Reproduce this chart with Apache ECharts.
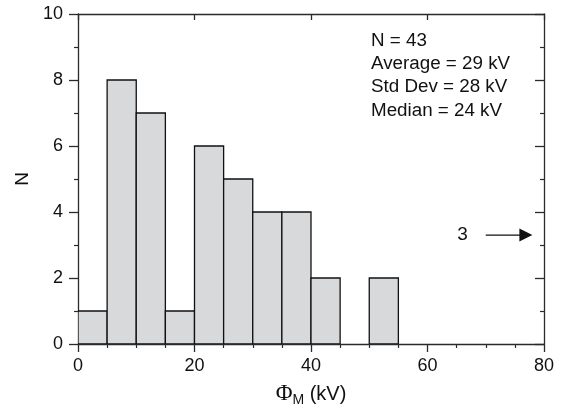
<!DOCTYPE html>
<html>
<head>
<meta charset="utf-8">
<script src="https://cdn.jsdelivr.net/npm/echarts@6/dist/echarts.min.js"></script>
<style>
  html, body { margin: 0; padding: 0; background: #fff; }
  #chart { width: 566px; height: 414px; }
</style>
</head>
<body>
<div id="chart"></div>
<script>
// Histogram of Φ_M in 5 kV bins
const binStarts = [0, 5, 10, 15, 20, 25, 30, 35, 40, 45, 50];
const binWidth = 5;
const counts = [1, 8, 7, 1, 6, 5, 4, 4, 2, 0, 2];

// Events beyond the axis range, shown with an arrow
const overflowCount = 3;
const overflowArrow = [70, 78, 3.3]; // x from, x to, y level
const overflowLabelX = 66;

// Summary statistics
const statLines = ['N = 43', 'Average = 29 kV', 'Std Dev = 28 kV', 'Median = 24 kV'];

const xTicks = { min: 0, max: 80, interval: 20 };
const yTicks = { min: 0, max: 10, interval: 2 };

const FONT = '"Liberation Sans", Arial, Helvetica, sans-serif';
const AXIS = '#2a2a2a';

const binData = binStarts
  .map((x, i) => [x, x + binWidth, counts[i]])
  .filter(d => d[2] > 0);

const chart = echarts.init(document.getElementById('chart'), null, { renderer: 'canvas' });

const axisCommon = {
  axisLine: { show: true, onZero: false, lineStyle: { color: AXIS, width: 1.3 } },
  splitLine: { show: false }
};

chart.setOption({
  animation: false,
  backgroundColor: '#fff',
  grid: { left: 78, right: 22, top: 14, bottom: 70, containLabel: false },
  xAxis: [
    Object.assign({}, axisCommon, {
      type: 'value', position: 'bottom',
      min: xTicks.min, max: xTicks.max, interval: xTicks.interval,
      axisTick: { show: true, inside: false, length: 8, lineStyle: { color: AXIS, width: 1.3 } },
      minorTick: { show: true, splitNumber: 4, length: 4, lineStyle: { color: AXIS, width: 1.2 } },
      axisLabel: { color: '#111', fontSize: 18, fontFamily: FONT, margin: 13 },
      name: '{phi|Φ}{sub|M}{unit| (kV)}',
      nameLocation: 'middle', nameGap: 37,
      nameTextStyle: {
        rich: {
          phi: { fontFamily: '"Liberation Serif", "DejaVu Serif", serif', fontSize: 23, color: '#111' },
          sub: { fontFamily: FONT, fontSize: 14, color: '#111', padding: [12, 0, 0, 0] },
          unit: { fontFamily: FONT, fontSize: 20, color: '#111' }
        }
      }
    }),
    Object.assign({}, axisCommon, {
      type: 'value', position: 'top',
      min: xTicks.min, max: xTicks.max, interval: xTicks.interval,
      axisTick: { show: true, inside: true, length: 6, lineStyle: { color: AXIS, width: 1.3 } },
      axisLabel: { show: false }
    })
  ],
  yAxis: [
    Object.assign({}, axisCommon, {
      type: 'value', position: 'left',
      min: yTicks.min, max: yTicks.max, interval: yTicks.interval,
      axisTick: { show: true, inside: false, length: 9, lineStyle: { color: AXIS, width: 1.3 } },
      minorTick: { show: true, splitNumber: 2, length: 4, lineStyle: { color: AXIS, width: 1.2 } },
      axisLabel: { color: '#111', fontSize: 18, fontFamily: FONT, margin: 15 },
      name: 'N', nameLocation: 'middle', nameRotate: 90, nameGap: 45,
      nameTextStyle: { color: '#111', fontSize: 19, fontFamily: FONT }
    }),
    Object.assign({}, axisCommon, {
      type: 'value', position: 'right',
      min: yTicks.min, max: yTicks.max, interval: yTicks.interval,
      axisTick: { show: true, inside: true, length: 9, lineStyle: { color: AXIS, width: 1.3 } },
      minorTick: { show: true, splitNumber: 2, length: 4, lineStyle: { color: AXIS, width: 1.2 } },
      axisLabel: { show: false }
    })
  ],
  series: [
    {
      type: 'custom',
      name: 'bins',
      xAxisIndex: 0, yAxisIndex: 0,
      clip: true,
      data: binData,
      encode: { x: [0, 1], y: 2 },
      renderItem: function (params, api) {
        const p0 = api.coord([api.value(0), 0]);
        const p1 = api.coord([api.value(1), api.value(2)]);
        return {
          type: 'rect',
          shape: { x: p0[0], y: p1[1], width: p1[0] - p0[0], height: p0[1] - p1[1] },
          style: { fill: '#d8d9db', stroke: '#111', lineWidth: 1.3 }
        };
      }
    },
    {
      type: 'custom',
      name: 'overflow',
      xAxisIndex: 0, yAxisIndex: 0,
      data: [[overflowArrow[0], overflowArrow[1], overflowArrow[2], overflowLabelX, overflowCount]],
      renderItem: function (params, api) {
        const a = api.coord([api.value(0), api.value(2)]);
        const b = api.coord([api.value(1), api.value(2)]);
        const t = api.coord([api.value(3), api.value(2)]);
        const headLen = 13, headHalf = 6.5;
        return {
          type: 'group',
          children: [
            { type: 'line', shape: { x1: a[0], y1: a[1], x2: b[0] - headLen + 1, y2: b[1] },
              style: { stroke: '#111', lineWidth: 1.3 } },
            { type: 'polygon', shape: { points: [[b[0], b[1]], [b[0] - headLen, b[1] - headHalf], [b[0] - headLen, b[1] + headHalf]] },
              style: { fill: '#111' } },
            { type: 'text', x: t[0], y: t[1],
              style: { text: String(api.value(4)), fill: '#111', font: '19px ' + FONT, align: 'center', verticalAlign: 'middle' } }
          ]
        };
      }
    }
  ],
  graphic: [
    {
      type: 'text', left: 371, top: 29,
      style: { text: statLines.join('\n'), fill: '#111', font: '18.8px ' + FONT, lineHeight: 23.3 }
    }
  ]
});
</script>
</body>
</html>
